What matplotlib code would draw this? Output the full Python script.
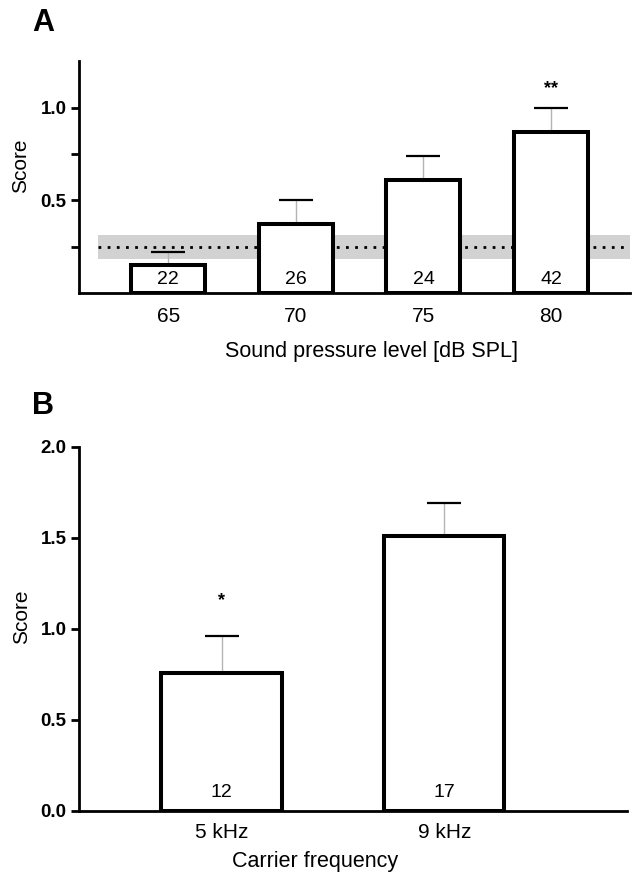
import numpy as np
import matplotlib
matplotlib.use('Agg')
import matplotlib.pyplot as plt

plt.rcParams['font.family'] = ['Liberation Sans', 'DejaVu Sans']

# Panel A: score vs sound pressure level
spl_labels = ['65', '70', '75', '80']
spl_score = [0.15, 0.37, 0.61, 0.87]
spl_err = [0.07, 0.13, 0.13, 0.13]
spl_n = ['22', '26', '24', '42']
spl_sig = ['', '', '', '**']
chance_level = 0.25
chance_low = 0.185
chance_high = 0.31

# Panel B: score vs carrier frequency
freq_labels = ['5 kHz', '9 kHz']
freq_score = [0.76, 1.51]
freq_err = [0.20, 0.18]
freq_n = ['12', '17']
freq_sig = ['*', '']

fig = plt.figure(figsize=(6.32, 8.74), dpi=100)
axA = fig.add_axes([0.125, 0.6648, 0.872, 0.2652])
axB = fig.add_axes([0.125, 0.0721, 0.867, 0.4165])


def draw_panel(ax, labels, score, err, n, sig, width, n_y, sig_y):
    x = np.arange(len(labels))
    eb = ax.errorbar(x, score, yerr=[np.zeros(len(score)), err], fmt='none',
                     ecolor='#b4b4b4', elinewidth=1.0, capsize=12, capthick=1.6, zorder=2)
    caps = eb[1]
    caps[0].set_visible(False)  # only upper half of the error bar
    caps[1].set_markeredgecolor('black')
    ax.bar(x, score, width=width, color='white', edgecolor='black', linewidth=2.9, zorder=3)
    for xi, lab in zip(x, n):
        ax.text(xi, n_y, lab, ha='center', va='center', fontsize=14, zorder=4)
    for xi, st in zip(x, sig):
        if st:
            ax.text(xi, sig_y, st, ha='center', va='center', fontsize=13, fontweight='bold')
    ax.set_xticks(x)
    ax.set_xticklabels(labels)
    for sp in ['top', 'right']:
        ax.spines[sp].set_visible(False)
    for sp in ['left', 'bottom']:
        ax.spines[sp].set_linewidth(2)
    ax.tick_params(axis='x', length=0, labelsize=15)
    ax.tick_params(axis='y', length=6, width=2, pad=3, labelsize=13.5)
    return x


# panel A
axA.axhspan(chance_low, chance_high, xmin=0.035, xmax=1.0, color='#d2d2d2', lw=0, zorder=0)
axA.axhline(chance_level, xmin=0.035, xmax=1.0, color='black', lw=2, ls=(0, (1, 2.3)), zorder=1)
draw_panel(axA, spl_labels, spl_score, spl_err, spl_n, spl_sig, 0.58, 0.075, 1.10)
axA.set_xlim(-0.70, 3.62)
axA.set_ylim(0, 1.25)
axA.set_yticks([0.25, 0.5, 0.75, 1.0])
axA.set_yticklabels(['', '0.5', '', '1.0'], fontweight='bold')
axA.tick_params(axis='x', pad=10)
axA.set_ylabel('Score', fontsize=15)
axA.yaxis.set_label_coords(-0.088, 0.55)
axA.set_xlabel('Sound pressure level [dB SPL]', fontsize=15.5, labelpad=11)
axA.xaxis.label.set_x(0.53)

# panel B
draw_panel(axB, freq_labels, freq_score, freq_err, freq_n, freq_sig, 0.54, 0.10, 1.155)
axB.set_xlim(-0.64, 1.82)
axB.set_ylim(0, 2.0)
axB.set_yticks([0, 0.5, 1.0, 1.5, 2.0])
axB.set_yticklabels(['0.0', '0.5', '1.0', '1.5', '2.0'], fontweight='bold')
axB.tick_params(axis='x', pad=9)
axB.set_ylabel('Score', fontsize=15)
axB.yaxis.set_label_coords(-0.088, 0.533)
axB.set_xlabel('Carrier frequency', fontsize=15.5, labelpad=6)
axB.xaxis.label.set_x(0.43)

fig.text(0.068, 0.974, 'A', fontsize=22, fontweight='bold', ha='center', va='center')
fig.text(0.068, 0.536, 'B', fontsize=22, fontweight='bold', ha='center', va='center')

fig.savefig('out.png', dpi=100)
